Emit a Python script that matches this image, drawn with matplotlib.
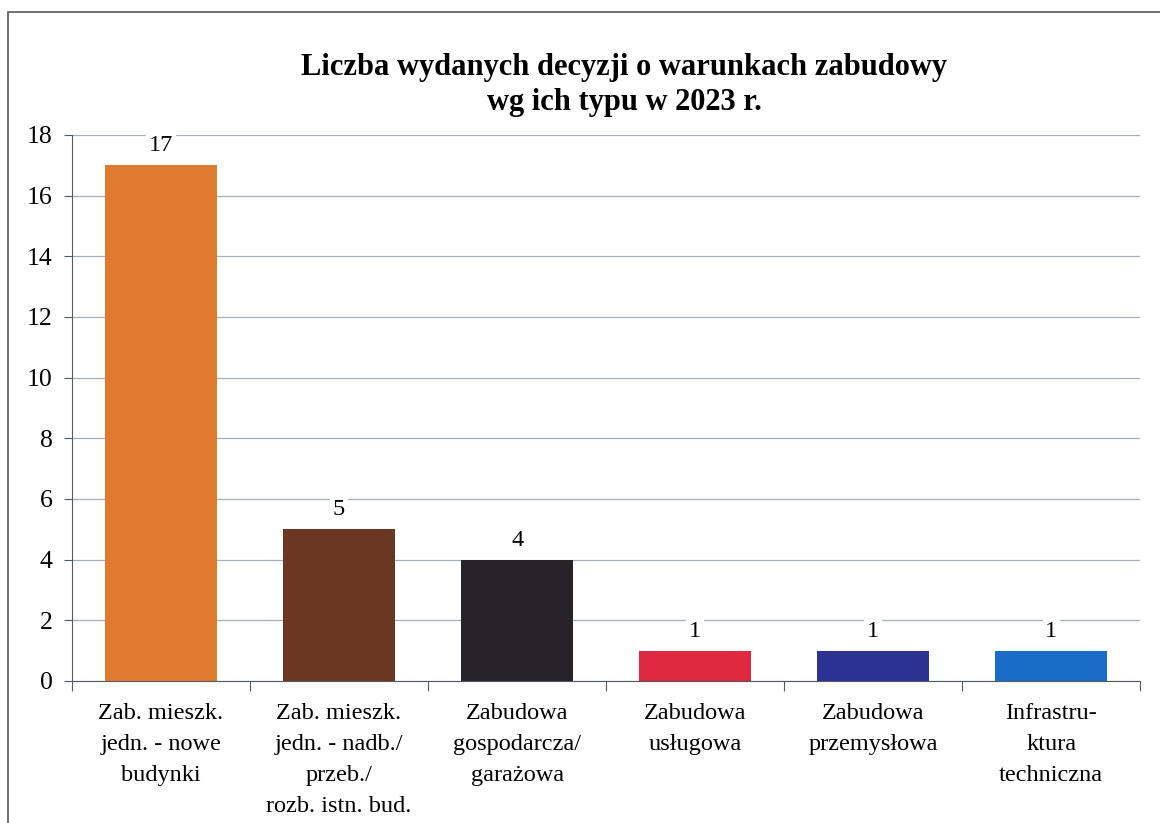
import matplotlib.pyplot as plt
from matplotlib.patches import Rectangle

# data
categories = [
    "Zab. mieszk.\njedn. - nowe\nbudynki",
    "Zab. mieszk.\njedn. - nadb./\nprzeb./\nrozb. istn. bud.",
    "Zabudowa\ngospodarcza/\ngarażowa",
    "Zabudowa\nusługowa",
    "Zabudowa\nprzemysłowa",
    "Infrastru-\nktura\ntechniczna",
]
values = [17, 5, 4, 1, 1, 1]
colors = ["#e07a30", "#6a3822", "#27232a", "#e0283e", "#2b3292", "#1b6cc6"]
title = "Liczba wydanych decyzji o warunkach zabudowy\nwg ich typu w 2023 r."

plt.rcParams["font.family"] = ["Liberation Serif", "DejaVu Serif"]

fig = plt.figure(figsize=(11.6, 8.23), dpi=100)
ax = fig.add_axes([0.062, 0.1726, 0.921, 0.6634])

# frame around the whole chart
fig.patches.append(Rectangle((8 / 1160, -0.1), 1.2, 1 - 12 / 823 + 0.1,
                             transform=fig.transFigure, fill=False,
                             edgecolor="#555a60", linewidth=1.2))

x = range(len(values))
bars = ax.bar(x, values, width=0.63, color=colors, zorder=2)

for xi, v in zip(x, values):
    ax.text(xi, v + 0.3, str(v), ha="center", va="bottom", fontsize=17.5,
            zorder=3, bbox=dict(facecolor="white", edgecolor="none", pad=2))

ax.set_xlim(-0.5, len(values) - 0.5)
ax.set_ylim(0, 18)
ax.set_yticks(range(0, 19, 2))
ax.tick_params(axis="y", labelsize=18.5, direction="out", length=6, color="#555a60", pad=8)
ax.set_xticks([i - 0.5 for i in range(len(values) + 1)], minor=False)
ax.set_xticklabels([])
ax.set_xticks(list(x), minor=True)
ax.set_xticklabels(categories, minor=True, fontsize=17.5, linespacing=1.62)
ax.tick_params(axis="x", which="major", direction="out", length=7, color="#555a60")
ax.tick_params(axis="x", which="minor", length=0, pad=16)

ax.grid(axis="y", color="#a3b0bb", linewidth=0.9, zorder=0)
ax.set_axisbelow(True)
for side in ["top", "right"]:
    ax.spines[side].set_visible(False)
ax.spines["left"].set_color("#555a60")
ax.spines["bottom"].set_color("#555a60")

fig.text(0.538, 0.936, title, ha="center", va="top", fontsize=22,
         fontweight="bold", linespacing=1.3)

fig.savefig("out.png", dpi=100)
